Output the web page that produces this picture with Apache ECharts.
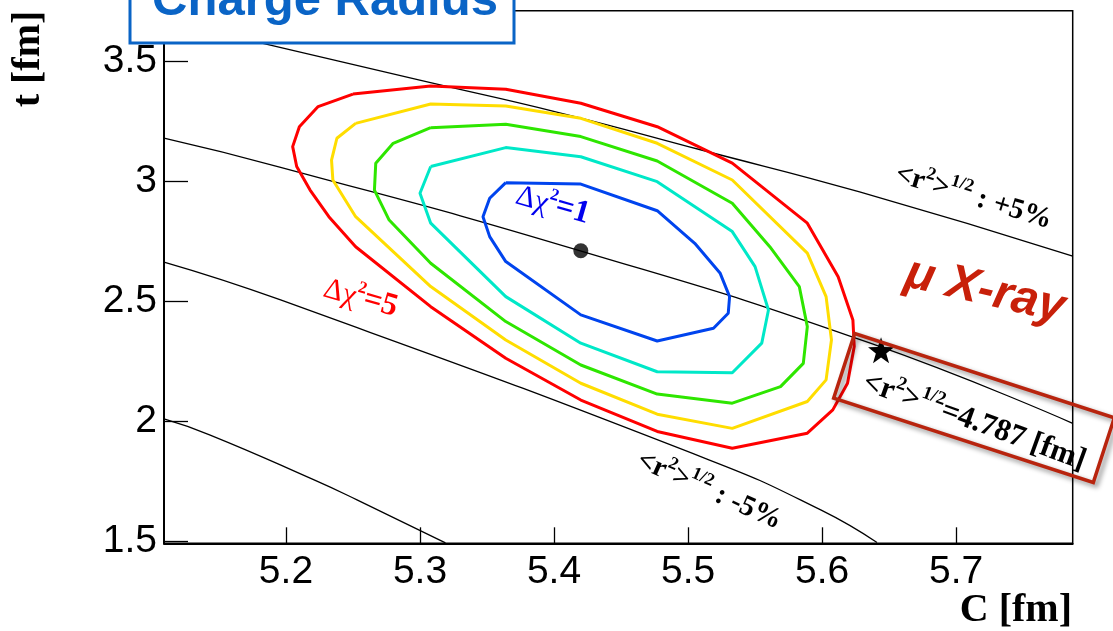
<!DOCTYPE html>
<html>
<head>
<meta charset="utf-8">
<script src="https://cdn.jsdelivr.net/npm/echarts@6/dist/echarts.min.js"></script>
<style>
html,body{margin:0;padding:0;background:#fff;}
#chart{width:1113px;height:631px;}
</style>
</head>
<body>
<div id="chart"></div>
<script>
// ---- axis ticks ----
const xTicks = [5.2, 5.3, 5.4, 5.5, 5.6, 5.7];
const yTicks = [1.5, 2, 2.5, 3, 3.5];

// ---- delta chi^2 contours (C [fm], t [fm]) ----
const contourRed = [[5.250,3.365],[5.308,3.399],[5.364,3.385],[5.420,3.327],[5.477,3.229],[5.533,3.077],[5.589,2.827],[5.612,2.604],[5.623,2.424],[5.624,2.313],[5.619,2.160],[5.608,2.049],[5.589,1.952],[5.533,1.889],[5.477,1.959],[5.420,2.090],[5.364,2.264],[5.308,2.479],[5.252,2.729],[5.232,2.854],[5.218,2.965],[5.208,3.063],[5.205,3.146],[5.210,3.229],[5.224,3.313],[5.250,3.365]];
const contourYellow = [[5.252,3.243],[5.308,3.324],[5.364,3.315],[5.420,3.264],[5.477,3.160],[5.533,3.007],[5.589,2.702],[5.603,2.521],[5.607,2.340],[5.603,2.174],[5.589,2.084],[5.533,1.972],[5.477,2.031],[5.420,2.160],[5.364,2.340],[5.308,2.563],[5.252,2.854],[5.235,3.007],[5.234,3.090],[5.238,3.181],[5.252,3.243]];
const contourGreen = [[5.308,3.225],[5.364,3.239],[5.420,3.188],[5.477,3.086],[5.533,2.910],[5.561,2.729],[5.583,2.563],[5.589,2.396],[5.586,2.243],[5.569,2.146],[5.533,2.077],[5.477,2.115],[5.420,2.236],[5.364,2.417],[5.308,2.660],[5.277,2.840],[5.266,2.965],[5.267,3.077],[5.280,3.160],[5.308,3.225]];
const contourCyan = [[5.308,3.063],[5.364,3.142],[5.420,3.104],[5.477,3.000],[5.533,2.792],[5.550,2.646],[5.560,2.465],[5.555,2.327],[5.533,2.204],[5.477,2.208],[5.420,2.327],[5.364,2.521],[5.308,2.827],[5.300,2.952],[5.308,3.063]];
const contourBlue = [[5.364,2.996],[5.420,2.990],[5.477,2.879],[5.505,2.743],[5.524,2.618],[5.531,2.521],[5.530,2.452],[5.519,2.389],[5.477,2.336],[5.420,2.445],[5.364,2.667],[5.352,2.771],[5.347,2.854],[5.352,2.931],[5.364,2.996]];

// ---- constant <r^2>^{1/2} curves ----
const linePlus5 = [[5.109,3.674],[5.178,3.583],[5.299,3.424],[5.405,3.286],[5.510,3.132],[5.628,2.957],[5.787,2.690]];
const lineCentral = [[5.109,3.181],[5.196,3.060],[5.419,2.713],[5.636,2.327],[5.787,1.993]];
const lineMinus5 = [[5.109,2.665],[5.196,2.507],[5.516,1.840],[5.599,1.632],[5.641,1.496]];
const lineMinus10 = [[5.109,2.011],[5.143,1.945],[5.221,1.757],[5.253,1.674],[5.319,1.495]];

// ---- markers ----
const bestFit = [[5.420, 2.712]];
const muXray = [[5.644, 2.297]];

// ---- annotation anchors (data coords), texts and angles ----
const annoPos = [[5.7135,2.9425],[5.5165,1.7196],[5.7142,2.0071],[5.2560,2.5196],[5.3993,2.907]];
const annoText = [
  '{b|<r}{s|2}{b|>}{s|1/2}{b| : +5%}',
  '{b|<r}{s|2}{b|>}{s|1/2}{b| : -5%}',
  '{B|<r}{S|2}{B|>}{S|1/2}{B|=4.787 [fm]}',
  '{rg|Δχ}{rs|2}{rb|=5}',
  '{bg|Δχ}{bs|2}{bb|=1}'
];
const annoAngle = [-17, -24, -20, -16, -16];

const SERIF = 'Liberation Serif';
const SANS = 'Liberation Sans';
const deg = Math.PI / 180;

function rich() {
  const mk = (size, lh, color, weight, va) => ({fontFamily: SERIF, fontWeight: weight, fontSize: size, lineHeight: lh,
    color: color, verticalAlign: va, textBorderWidth: 0, textBorderColor: 'transparent', textShadowBlur: 0});
  return {
    b: mk(29, 33, '#000', 'bold', 'bottom'),
    s: mk(18, 18, '#000', 'bold', 'top'),
    B: mk(31, 35, '#000', 'bold', 'bottom'),
    S: mk(19, 19, '#000', 'bold', 'top'),
    rg: mk(30, 34, '#ff0000', 'normal', 'bottom'),
    rs: mk(17, 17, '#ff0000', 'bold', 'top'),
    rb: mk(32, 34, '#ff0000', 'bold', 'bottom'),
    bg: mk(30, 34, '#0000ee', 'normal', 'bottom'),
    bs: mk(17, 17, '#0000ee', 'bold', 'top'),
    bb: mk(32, 34, '#0000ee', 'bold', 'bottom')
  };
}

function contour(data, color) {
  return {type: 'line', data: data, symbol: 'none', smooth: false, silent: true,
    lineStyle: {color: color, width: 3}, z: 3};
}
function rline(data) {
  return {type: 'line', data: data, symbol: 'none', smooth: true, silent: true,
    lineStyle: {color: '#000', width: 1.3}, z: 2};
}

const chart = echarts.init(document.getElementById('chart'), null, {renderer: 'canvas'});
const STAR = 'path://M0,-50 L11.8,-16.2 L47.6,-15.5 L19,6.2 L29.4,40.5 L0,20 L-29.4,40.5 L-19,6.2 L-47.6,-15.5 L-11.8,-16.2 Z';

chart.setOption({
  animation: false,
  backgroundColor: '#fff',
  grid: {left: 164, right: 40.3, top: 10.7, bottom: 87.7, containLabel: false, outerBoundsMode: 'none',
    show: true, borderColor: '#000', borderWidth: 1.5, backgroundColor: 'transparent'},
  xAxis: {
    type: 'value', min: 5.109, max: 5.787,
    axisLine: {show: true, onZero: false, lineStyle: {color: '#000', width: 2}},
    axisTick: {show: true, inside: true, length: 16, customValues: xTicks, lineStyle: {color: '#000', width: 1.3}},
    axisLabel: {show: true, customValues: xTicks, margin: 9, color: '#000', fontFamily: SANS, fontSize: 39,
      formatter: v => v.toFixed(1)},
    splitLine: {show: false}
  },
  yAxis: {
    type: 'value', min: 1.493, max: 3.7125,
    axisLine: {show: true, onZero: false, lineStyle: {color: '#000', width: 2}},
    axisTick: {show: true, inside: true, length: 24, customValues: yTicks, lineStyle: {color: '#000', width: 1.3}},
    axisLabel: {show: true, customValues: yTicks, margin: 7, color: '#000', fontFamily: SANS, fontSize: 39,
      formatter: v => (Math.abs(v - Math.round(v)) < 1e-9 ? String(Math.round(v)) : v.toFixed(1))},
    splitLine: {show: false}
  },
  series: [
    rline(linePlus5), rline(lineCentral), rline(lineMinus5), rline(lineMinus10),
    contour(contourRed, '#ff0000'),
    contour(contourYellow, '#ffdd00'),
    contour(contourGreen, '#2ee600'),
    contour(contourCyan, '#00e8c8'),
    contour(contourBlue, '#0044ee'),
    {type: 'scatter', data: bestFit, symbol: 'circle', symbolSize: 15, silent: true,
      itemStyle: {color: '#000'}, z: 5},
    {type: 'scatter', data: muXray, symbol: STAR, symbolSize: 26, silent: true,
      itemStyle: {color: '#000', opacity: 1}, z: 5},
    {type: 'scatter', symbolSize: 0, silent: true, itemStyle: {color: '#000'}, z: 6, clip: false,
      data: annoPos.map((p, i) => ({
        value: p,
        label: {show: true, position: [0, 0], align: 'center', verticalAlign: 'middle',
          formatter: annoText[i], rotate: annoAngle[i], rich: rich(),
          color: '#000', textBorderWidth: 0, textBorderColor: 'transparent', opacity: 1}
      })),
      labelLayout: {hideOverlap: false}
    }
  ],
  graphic: [
    {type: 'rect', z: 100, shape: {x: 130, y: -10, width: 384, height: 53},
      style: {fill: '#fff', stroke: '#0a64c6', lineWidth: 3}},
    {type: 'text', z: 101, x: 325, y: 1,
      style: {text: 'Charge Radius', font: 'bold 49px "Liberation Sans"', fill: '#0a64c6',
        align: 'center', verticalAlign: 'middle', textAlign: 'center', textVerticalAlign: 'middle'}},
    {type: 'text', z: 101, x: 1072, y: 611,
      style: {text: 'C [fm]', font: 'bold 40px "Liberation Serif"', fill: '#000',
        align: 'right', verticalAlign: 'middle', textAlign: 'right', textVerticalAlign: 'middle'}},
    {type: 'text', z: 101, x: 29, y: 59, rotation: Math.PI / 2,
      style: {text: 't [fm]', font: 'bold 40px "Liberation Serif"', fill: '#000',
        align: 'center', verticalAlign: 'middle', textAlign: 'center', textVerticalAlign: 'middle'}},
    {type: 'text', z: 101, x: 985, y: 291, rotation: -13 * deg,
      style: {text: 'μ X-ray', font: 'italic bold 48px "Liberation Sans"', fill: '#c8200a',
        align: 'center', verticalAlign: 'middle', textAlign: 'center', textVerticalAlign: 'middle'}},
    {type: 'rect', z: 90, x: 974, y: 408, rotation: -18 * deg,
      shape: {x: -136.5, y: -34, width: 273, height: 68},
      style: {fill: 'none', stroke: '#b8240e', lineWidth: 3.5,
        shadowBlur: 5, shadowOffsetX: 3, shadowOffsetY: 3, shadowColor: 'rgba(0,0,0,0.45)'}}
  ]
});
</script>
</body>
</html>
